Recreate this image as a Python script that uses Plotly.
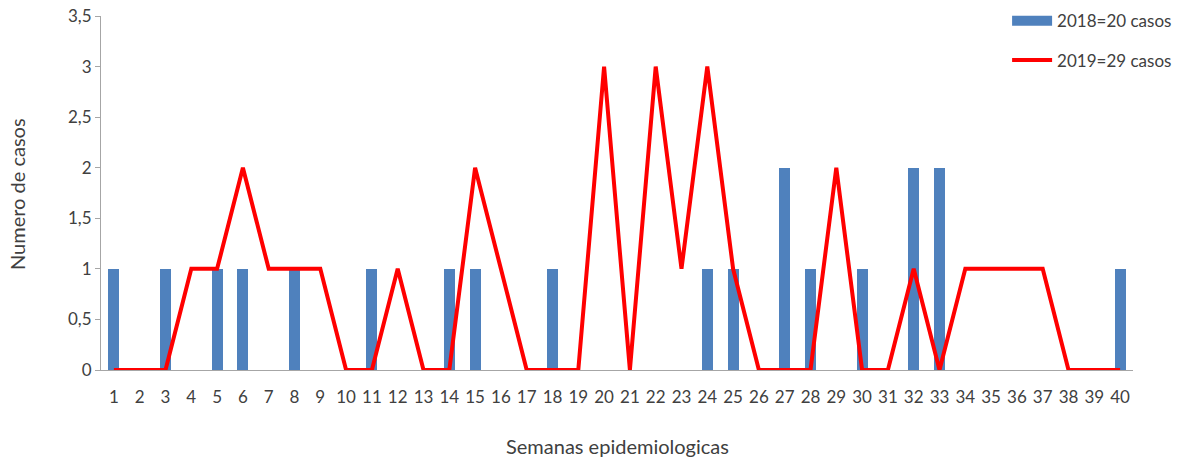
import plotly.graph_objects as go

weeks = list(range(1, 41))
cases_2018 = [1, 0, 1, 0, 1, 1, 0, 1, 0, 0,
              1, 0, 0, 1, 1, 0, 0, 1, 0, 0,
              0, 0, 0, 1, 1, 0, 2, 1, 0, 1,
              0, 2, 2, 0, 0, 0, 0, 0, 0, 1]
cases_2019 = [0, 0, 0, 1, 1, 2, 1, 1, 1, 0,
              0, 1, 0, 0, 2, 1, 0, 0, 0, 3,
              0, 3, 1, 3, 1, 0, 0, 0, 2, 0,
              0, 1, 0, 1, 1, 1, 1, 0, 0, 0]
name_2018 = "2018=20 casos"
name_2019 = "2019=29 casos"
y_ticks = [0, 0.5, 1, 1.5, 2, 2.5, 3, 3.5]
x_title = "Semanas epidemiologicas"
y_title = "Numero de casos"

BLUE = "#4f81bd"
RED = "#ff0000"
FONT = "Lato"
TXT = "#404040"
AX = "#a6a6a6"

fig = go.Figure()
fig.add_trace(go.Bar(x=weeks, y=cases_2018, width=0.42, marker=dict(color=BLUE, line=dict(width=0)),
                     name=name_2018, showlegend=False))
fig.add_trace(go.Scatter(x=weeks, y=cases_2019, mode="lines", line=dict(color=RED, width=4),
                         name=name_2019, showlegend=False))
# legend entries
fig.add_trace(go.Scatter(x=[None], y=[None], mode="lines", line=dict(color=BLUE, width=11),
                         name=name_2018, legendgroup="a"))
fig.add_trace(go.Scatter(x=[None], y=[None], mode="lines", line=dict(color=RED, width=4),
                         name=name_2019, legendgroup="b"))

fig.update_layout(
    width=1195, height=457,
    margin=dict(l=101, r=62, t=16, b=87, autoexpand=False),
    paper_bgcolor="white", plot_bgcolor="white",
    separators=",.",
    font=dict(family=FONT, size=17, color=TXT),
    bargap=0,
    legend=dict(x=0.878, xanchor="left", y=1.036, yanchor="top", bgcolor="rgba(0,0,0,0)",
                tracegroupgap=14, font=dict(size=17, color=TXT), itemwidth=40),
    xaxis=dict(range=[0.5, 40.5], tickmode="array", tickvals=weeks, ticks="", showgrid=False,
               zeroline=False, showline=True, linecolor=AX, linewidth=1, ticklabelstandoff=12,
               automargin=False, tickfont=dict(size=17, color=TXT)),
    yaxis=dict(range=[0, 3.5], tickmode="array", tickvals=y_ticks, ticks="outside", ticklen=5,
               tickcolor=AX, showgrid=False, zeroline=False, showline=True, linecolor=AX, linewidth=1,
               automargin=False, ticklabeloverflow="allow", tickfont=dict(size=17, color=TXT)),
    annotations=[
        dict(text=x_title, xref="paper", yref="paper", x=0.5, y=-0.2145, xanchor="center",
             yanchor="middle", showarrow=False, font=dict(size=20, color=TXT)),
        dict(text=y_title, xref="paper", yref="paper", x=-0.0814, y=0.497, xanchor="center",
             yanchor="middle", showarrow=False, textangle=-90, font=dict(size=20, color=TXT)),
    ],
)

fig.write_html("out.html", config={"displayModeBar": False},
               post_script="document.body.style.margin='0';document.body.style.overflow='hidden';")
